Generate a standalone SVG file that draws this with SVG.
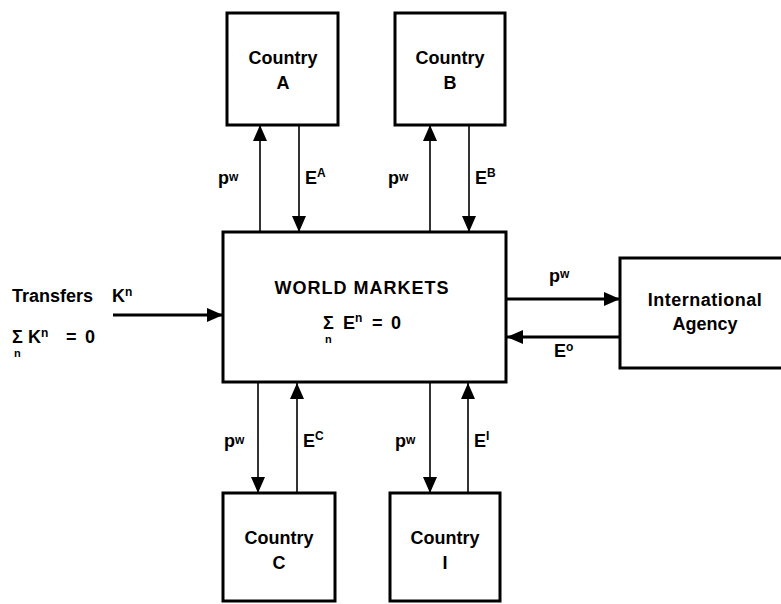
<svg xmlns="http://www.w3.org/2000/svg" width="781" height="604" viewBox="0 0 781 604">
<defs>
<style>
.box{fill:#fff;stroke:#000;stroke-width:3}
.t{font-family:"Liberation Sans",Arial,sans-serif;font-weight:bold;font-size:18px;fill:#000}
.c{text-anchor:middle}
.ln{stroke:#000;stroke-width:1.6;fill:none}
.lh{stroke:#000;stroke-width:2.8;fill:none}
.sup{font-size:12px}
.sub{font-size:11px}
</style>
<marker id="ah" viewBox="0 0 16 14" refX="16" refY="7" markerWidth="16" markerHeight="14" markerUnits="userSpaceOnUse" orient="auto">
<path d="M0,0 L16,7 L0,14 Z" fill="#000"/>
</marker>
</defs>
<rect width="781" height="604" fill="#fff"/>
<g id="connectors">
<line class="ln" x1="260" y1="232" x2="260" y2="125" marker-end="url(#ah)"/>
<line class="ln" x1="299" y1="125" x2="299" y2="232" marker-end="url(#ah)"/>
<line class="ln" x1="430" y1="232" x2="430" y2="125" marker-end="url(#ah)"/>
<line class="ln" x1="469" y1="125" x2="469" y2="232" marker-end="url(#ah)"/>
<line class="ln" x1="258" y1="382" x2="258" y2="493" marker-end="url(#ah)"/>
<line class="ln" x1="297" y1="493" x2="297" y2="383" marker-end="url(#ah)"/>
<line class="ln" x1="430" y1="382" x2="430" y2="493" marker-end="url(#ah)"/>
<line class="ln" x1="468" y1="493" x2="468" y2="383" marker-end="url(#ah)"/>
<line class="lh" x1="113" y1="315" x2="223" y2="315" marker-end="url(#ah)"/>
<line class="lh" x1="506" y1="299" x2="620" y2="299" marker-end="url(#ah)"/>
<line class="lh" x1="620" y1="337" x2="507" y2="337" marker-end="url(#ah)"/>
<text class="t" x="218" y="184">p<tspan class="sup" dy="-3">w</tspan></text>
<text class="t" x="305" y="184">E<tspan class="sup" dy="-7">A</tspan></text>
<text class="t" x="388" y="184">p<tspan class="sup" dy="-3">w</tspan></text>
<text class="t" x="475" y="184">E<tspan class="sup" dy="-7">B</tspan></text>
<text class="t" x="224" y="447">p<tspan class="sup" dy="-3">w</tspan></text>
<text class="t" x="303" y="447">E<tspan class="sup" dy="-7">C</tspan></text>
<text class="t" x="395" y="447">p<tspan class="sup" dy="-3">w</tspan></text>
<text class="t" x="474" y="447">E<tspan class="sup" dy="-7">I</tspan></text>
<text class="t" x="549" y="282">p<tspan class="sup" dy="-4">w</tspan></text>
<text class="t" x="554" y="357">E<tspan class="sup" dy="-6">o</tspan></text>
<text class="t" x="12" y="302">Transfers</text>
<text class="t" x="112" y="302">K<tspan class="sup" dy="-6">n</tspan></text>
<text class="t" x="12" y="343">Σ</text>
<text class="t" x="28" y="343">K<tspan class="sup" dy="-6">n</tspan></text>
<text class="t" x="66" y="343">=</text>
<text class="t" x="85" y="343">0</text>
<text class="t sub" x="14" y="357">n</text>
</g>
<g id="countryA">
<rect class="box" x="227" y="13" width="111" height="112"/>
<text class="t c" x="283" y="64">Country</text>
<text class="t c" x="283" y="89">A</text>
</g>
<g id="countryB">
<rect class="box" x="395" y="13" width="110" height="112"/>
<text class="t c" x="450" y="64">Country</text>
<text class="t c" x="450" y="89">B</text>
</g>
<g id="worldMarkets">
<rect class="box" x="223" y="232" width="283" height="150"/>
<text class="t c" x="362" y="294" style="letter-spacing:1px">WORLD MARKETS</text>
<text class="t" x="323" y="329">Σ</text>
<text class="t" x="343" y="329">E<tspan class="sup" dy="-7">n</tspan></text>
<text class="t" x="372" y="329">=</text>
<text class="t" x="391" y="329">0</text>
<text class="t sub" x="325" y="343">n</text>
</g>
<g id="countryC">
<rect class="box" x="223" y="493" width="112" height="108"/>
<text class="t c" x="279" y="544">Country</text>
<text class="t c" x="279" y="569">C</text>
</g>
<g id="countryI">
<rect class="box" x="390" y="493" width="110" height="108"/>
<text class="t c" x="445" y="544">Country</text>
<text class="t c" x="445" y="569">I</text>
</g>
<g id="agency">
<rect class="box" x="620" y="258" width="165" height="110"/>
<text class="t c" x="705" y="306" style="letter-spacing:0.5px">International</text>
<text class="t c" x="705" y="330">Agency</text>
</g>
</svg>
